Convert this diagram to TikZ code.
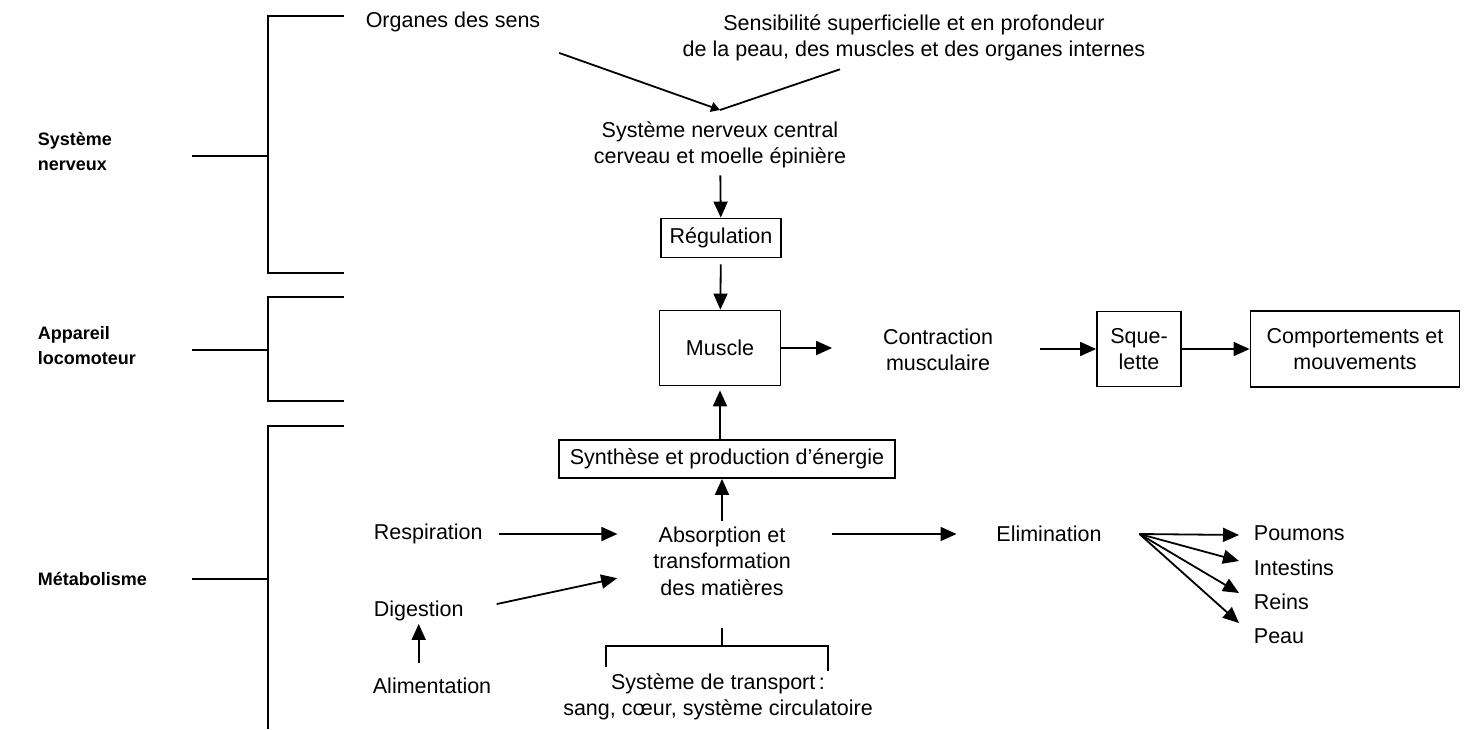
\documentclass[tikz,border=0pt]{standalone}
\usepackage{fontspec}
\setmainfont{Liberation Sans}
\usetikzlibrary{arrows.meta, positioning}

\begin{document}
\begin{tikzpicture}[x=1pt, y=-1pt, line width=1.8pt,
        >={Triangle[length=16pt, width=14pt]},
        lbl/.style = {font=\fontsize{21.5}{26.5}\selectfont, align=center,
                        inner sep=2pt},
        main/.style = {draw, lbl},
        grp/.style = {font=\fontsize{18}{25}\selectfont\bfseries,
                        align=left, anchor=west, inner sep=0pt},
        side/.style = {lbl, anchor=west, inner sep=0pt}]
        \useasboundingbox (0,0) rectangle (1467,729);

        % groups on the left
        \node[grp] (nerv) at (37,151) {Système\\nerveux};
        \node[grp] (loco) at (37,346) {Appareil\\locomoteur};
        \node[grp] (meta) at (37,579) {Métabolisme};

        \foreach \top/\mid/\bot in {16/156/273, 297/350/401}{
            \draw (344,\top) -| (268,\bot) -- (344,\bot);
            \draw (192,\mid) -- (268,\mid);
        }
        \draw (344,426) -| (268,729);
        \draw (192,579) -- (268,579);

        % nervous system
        \node[lbl] (organes) at (453,22) {Organes des sens};
        \node[lbl] (sensib) at (914,38) {Sensibilité superficielle et en profondeur\\de la peau, des muscles et des organes internes};
        \node[lbl] (snc) at (720,145) {Système nerveux central\\cerveau et moelle épinière};
        \node[main, minimum width=120pt, minimum height=39pt] (reg) at (721,238) {Régulation};
        \coordinate (meet) at (720,110);

        % locomotion
        \node[main, minimum width=121pt, minimum height=75pt] (muscle) at (720,348) {Muscle};
        \node[lbl] (contr) at (938,350) {Contraction\\musculaire};
        \node[main, minimum width=84pt, minimum height=75pt] (squel) at (1139,349) {Sque-\\lette};
        \node[main, minimum width=209pt, minimum height=76pt] (comp) at (1355,349) {Comportements et\\mouvements};

        % metabolism
        \node[main, minimum width=336pt, minimum height=38pt] (synth) at (727,459) {Synthèse et production d’énergie};
        \node[lbl] (absorp) at (722,561) {Absorption et\\transformation\\des matières};
        \node[side] (resp) at (373,534) {Respiration};
        \node[side] (dig) at (373,611) {Digestion};
        \node[side] (alim) at (372,686) {Alimentation};
        \node[lbl] (elim) at (1049,534) {Elimination};
        \node[side] (poum) at (1253,533) {Poumons};
        \node[side] (intest) at (1253,568) {Intestins};
        \node[side] (reins) at (1253,602) {Reins};
        \node[side] (peau) at (1253,636) {Peau};
        \node[lbl] (transp) at (718,697) {Système de transport\,:\\sang, cœur, système circulatoire};
        \coordinate (fan) at ([xshift=35pt]elim.east);

        \draw[-{Triangle[length=9pt, width=10pt]}] ([shift={(16pt,-18pt)}]organes.south east) -- (meet);
        \draw ([shift={(-74pt,-5pt)}]sensib.south) -- (meet);
        \draw[->, shorten <=4pt] (snc) -- (reg);
        \draw[->, shorten <=6pt] (reg) -- (muscle);
        \draw[->, shorten >=48pt] (muscle.east) -- (muscle.east -| contr.west);
        \draw[->, shorten <=44pt] (contr.east |- squel.west) -- (squel.west);
        \draw[->] (squel) -- (comp);
        \draw[->, shorten >=4pt] (synth.north -| muscle.south) -- (muscle.south);
        \draw[->] (absorp.north |- synth.south) ++(0,-2) ++(0,44) -- (absorp.north |- synth.south);
        \draw[->, shorten <=15pt, shorten >=33pt] (resp.east) -- (resp.east -| absorp.west);
        \draw[->, shorten <=33pt, shorten >=34pt] (dig.east) -- ([yshift=-10pt]absorp.west);
        \draw[->, shorten <=14pt, shorten >=2pt] (alim.north -| dig.south) -- (dig.south);
        \draw[->, shorten <=38pt, shorten >=37pt] (absorp.east |- elim.west) -- (elim.west);
        \foreach \t/\d in {poum/-2, intest/7, reins/9, peau/13}
            \draw[->] (fan) -- ([xshift=-14pt, yshift=\d pt]\t.west);

        % transport
        \draw (absorp.south) ++(0,30) coordinate (stem) -- ++(0,19);
        \draw (606,667) |- (828,646) -- (828,671);
    \end{tikzpicture}
\end{document}
